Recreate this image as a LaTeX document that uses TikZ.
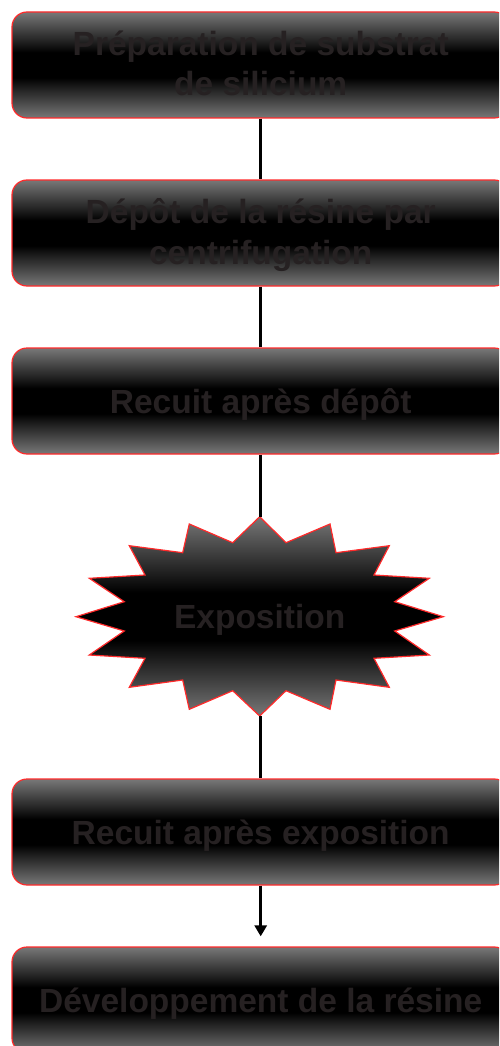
\documentclass[tikz,border=0pt]{standalone}
\usepackage{fontspec}
\setmainfont{Liberation Sans}
\usetikzlibrary{arrows.meta}
\definecolor{bgray}{HTML}{787878}
\definecolor{txt}{HTML}{262122}
\definecolor{bred}{HTML}{FF2A2A}
\pgfdeclareverticalshading{boxshade}{100bp}{color(0bp)=(bgray); color(25bp)=(bgray); color(44bp)=(black); color(56bp)=(black); color(75bp)=(bgray); color(100bp)=(bgray)}
\tikzset{
  stepbox/.style={draw=bred, line width=1.2pt, shading=boxshade, rounded corners=15pt,
    minimum width=497.4pt, minimum height=106pt, inner sep=0pt,
    align=center, text=txt, font=\fontsize{33.5}{40.5}\selectfont\bfseries,
    text height=24pt, text depth=0pt},
  twoline/.style={text height=62pt, text depth=0pt},
  starbox/.style={draw=bred, line width=1.2pt, shading=boxshade, line join=miter},
  startext/.style={text=txt, font=\fontsize{33.5}{40.5}\selectfont\bfseries, inner sep=0pt,
    text height=24pt, text depth=0pt},
  conn/.style={line width=3.5pt, black},
  arr/.style={line width=3.5pt, black, -{Triangle[length=11pt,width=12pt]}}
}
\begin{document}
\begin{tikzpicture}[x=1pt,y=-1pt]
\useasboundingbox (0,0) rectangle (499,1046);
\clip (0,0) rectangle (499,1046);
\node[stepbox,twoline] (b1) at (260.7,65) {Préparation de substrat\\de silicium};
\node[stepbox,twoline] (b2) at (260.7,233) {Dépôt de la résine par\\centrifugation};
\node[stepbox] (b3) at (260.7,401) {Recuit après dépôt};
\draw[starbox] (259.7,516.7) -- (286,542.7) -- (330,524) -- (336,552.7) -- (389.3,545.7) -- (374,575) -- (429.3,578.3) -- (394.7,601.7) -- (443.3,616.7) -- (394.7,631) -- (429.3,655) -- (374,658.3) -- (389.3,687.3) -- (336,680) -- (330,709.3) -- (286,690.7) -- (259.7,716) -- (232.7,690.7) -- (189.3,709.3) -- (182.7,680) -- (129.3,687.3) -- (145,658.3) -- (89.3,655) -- (124.3,631) -- (76,616.7) -- (124.3,601.7) -- (89.3,578.3) -- (145,575) -- (129.3,545.7) -- (182.7,552.7) -- (189.3,524) -- (232.7,542.7) -- cycle;
\node[startext] (b4) at (259.7,616.3) {Exposition};
\coordinate (b4t) at (260.7,516.7);
\coordinate (b4b) at (260.7,716);
\node[stepbox] (b5) at (260.7,832) {Recuit après exposition};
\node[stepbox] (b6) at (260.7,1000) {Développement de la résine};
\draw[conn] (b1.south) -- (b2.north);
\draw[conn] (b2.south) -- (b3.north);
\draw[conn] (b3.south) -- (b4t);
\draw[conn] (b4b) -- (b5.north);
\draw[arr] (b5.south) -- ([yshift=10pt]b6.north);
\end{tikzpicture}
\end{document}
